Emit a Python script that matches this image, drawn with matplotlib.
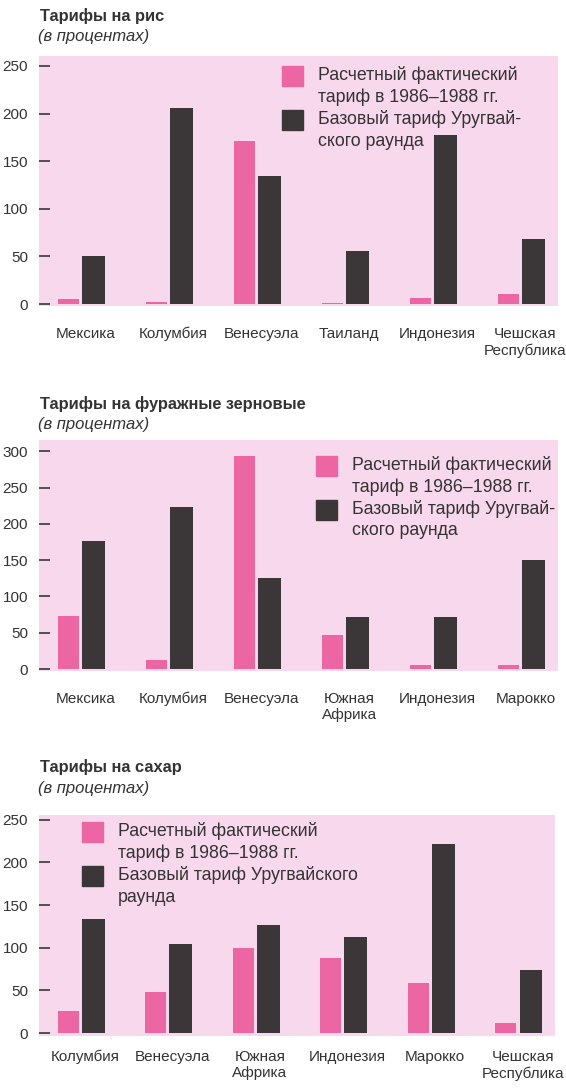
import numpy as np
import matplotlib
matplotlib.use("Agg")
import matplotlib.pyplot as plt
from matplotlib.patches import Rectangle

# Data
rice_countries = ['Мексика', 'Колумбия', 'Венесуэла', 'Таиланд', 'Индонезия', 'Чешская\nРеспублика']
rice_actual = [5, 2, 171, 1, 6, 11]
rice_base = [50, 206, 134, 56, 178, 68]

feed_countries = ['Мексика', 'Колумбия', 'Венесуэла', 'Южная\nАфрика', 'Индонезия', 'Марокко']
feed_actual = [73, 12, 293, 47, 5, 6]
feed_base = [176, 223, 126, 71, 71, 150]

sugar_countries = ['Колумбия', 'Венесуэла', 'Южная\nАфрика', 'Индонезия', 'Марокко', 'Чешская\nРеспублика']
sugar_actual = [26, 48, 100, 88, 59, 12]
sugar_base = [134, 104, 127, 113, 222, 74]

titles = ['Тарифы на рис', 'Тарифы на фуражные зерновые', 'Тарифы на сахар']
subtitle = '(в процентах)'
legend_actual = ['Расчетный фактический', 'тариф в 1986–1988 гг.']
legend_base_short = ['Базовый тариф Уругвай-', 'ского раунда']
legend_base_long = ['Базовый тариф Уругвайского', 'раунда']

# Style
W, H = 566, 1090
PINK = '#ec66a3'
DARK = '#3b3739'
BG = '#f8d8ec'
TXT = '#333333'
plt.rcParams['font.family'] = ['Liberation Sans', 'DejaVu Sans']
plt.rcParams['text.color'] = TXT

fig = plt.figure(figsize=(W / 100, H / 100), dpi=100)


def fx(px):
    return px / W


def fy(py):
    return 1 - py / H


def make_axes(left, right, top, bottom):
    return fig.add_axes([fx(left), fy(bottom), fx(right - left), (bottom - top) / H])


def draw_chart(ax, countries, actual, base, ylim, yticks, label_pad):
    x = np.arange(len(countries))
    ax.set_facecolor(BG)
    ax.bar(x - 0.14, actual, 0.24, color=PINK, zorder=2)
    ax.bar(x + 0.145, base, 0.26, color=DARK, zorder=2)
    ax.set_xlim(-0.475, 5.42)
    ax.set_ylim(*ylim)
    ax.set_yticks(yticks)
    ax.set_xticks(x + 0.05, countries)
    for s in ax.spines.values():
        s.set_visible(False)
    ax.tick_params(axis='y', direction='in', length=8, width=1.3, color='#444444',
                   pad=8, labelsize=11, labelcolor=TXT)
    ax.tick_params(axis='x', length=0, pad=label_pad, labelsize=11, labelcolor=TXT)


def legend_at(x, y, entries):
    # x, y: top-left of first key, pixels
    colors = [PINK, DARK]
    for k, lines in enumerate(entries):
        top = y + k * 44
        fig.patches.append(Rectangle((fx(x), fy(top + 20)), fx(21), 20 / H,
                                     transform=fig.transFigure, color=colors[k]))
        for j, line in enumerate(lines):
            fig.text(fx(x + 36), fy(top + 9 + j * 22), line, fontsize=12.8,
                     va='center', ha='left', color=TXT)


def header(title, y):
    fig.text(fx(40), fy(y), title, fontsize=11.8, fontweight='bold', va='center', ha='left')
    fig.text(fx(38), fy(y + 21), subtitle, fontsize=12, style='italic', va='center', ha='left')


ax1 = make_axes(39, 558, 56, 306)
draw_chart(ax1, rice_countries, rice_actual, rice_base, (-2.1, 260.5), range(0, 251, 50), 15)
header(titles[0], 16)
legend_at(282, 66, [legend_actual, legend_base_short])

ax2 = make_axes(39, 558, 440, 671)
draw_chart(ax2, feed_countries, feed_actual, feed_base, (-2.7, 315.5), range(0, 301, 50), 15)
header(titles[1], 404)
legend_at(316, 456, [legend_actual, legend_base_short])

ax3 = make_axes(39, 555, 815, 1036)
draw_chart(ax3, sugar_countries, sugar_actual, sugar_base, (-3.5, 255.6), range(0, 251, 50), 10)
header(titles[2], 767)
legend_at(82, 822, [legend_actual, legend_base_long])

fig.savefig('out.png', dpi=100, facecolor='white')
